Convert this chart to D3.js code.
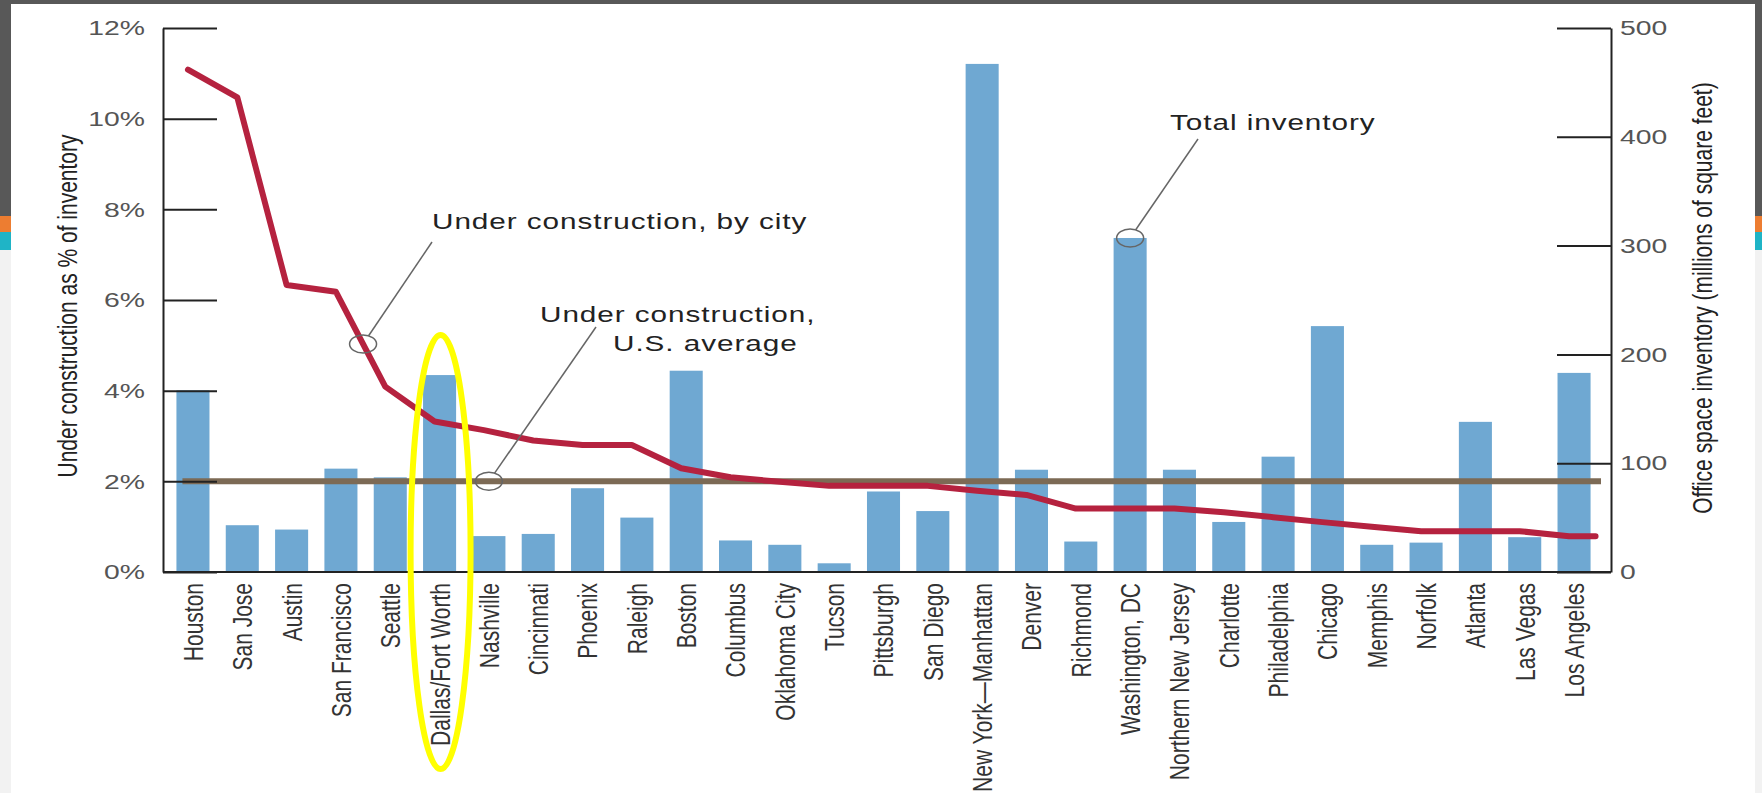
<!DOCTYPE html>
<html>
<head>
<meta charset="utf-8">
<script src="https://cdn.jsdelivr.net/npm/d3@7"></script>
<style>
  body { margin: 0; background: #fff; }
  svg { display: block; font-family: "Liberation Sans", Arial, Helvetica, sans-serif; }
</style>
</head>
<body>
<div id="chart"></div>
<script>
// Cities, ordered by share of inventory under construction
var cities = ["Houston", "San Jose", "Austin", "San Francisco", "Seattle", "Dallas/Fort Worth",
  "Nashville", "Cincinnati", "Phoenix", "Raleigh", "Boston", "Columbus", "Oklahoma City",
  "Tucson", "Pittsburgh", "San Diego", "New York\u2014Manhattan", "Denver", "Richmond",
  "Washington, DC", "Northern New Jersey", "Charlotte", "Philadelphia", "Chicago",
  "Memphis", "Norfolk", "Atlanta", "Las Vegas", "Los Angeles"]

// Office space inventory, millions of square feet (bars, right axis)
var inventory = [167, 43, 39, 95, 87, 181, 33, 35, 77, 50, 185, 29, 25, 8, 74, 56, 467,
  94, 28, 307, 94, 46, 106, 226, 25, 27, 138, 32, 183]

// Under construction as % of inventory (red line, left axis)
var underConstruction = [11.08, 10.47, 6.33, 6.18, 4.09, 3.32, 3.13, 2.9, 2.8, 2.8, 2.29,
  2.09, 1.99, 1.9, 1.9, 1.9, 1.79, 1.7, 1.4, 1.4, 1.4, 1.32, 1.21, 1.1, 1.0, 0.9, 0.9, 0.9, 0.79]

var usAverage = 2.0

var leftTicks = [0, 2, 4, 6, 8, 10, 12]
var rightTicks = [0, 100, 200, 300, 400, 500]

var width = 1762
var height = 793
var stretch = 1.35   // the source picture is stretched sideways, text too
var plot = {left: 163, right: 1611, top: 28, bottom: 572}

const svg = d3.select("#chart")
              .append("svg")
              .attr("width", width)
              .attr("height", height)

// slide frame (dark top, coloured side marks)
svg.append("rect").attr("x", 0).attr("y", 0).attr("width", width).attr("height", height).attr("fill", "#fff")
svg.append("rect").attr("x", 0).attr("y", 0).attr("width", width).attr("height", 4).attr("fill", "#585858")
var sides = [0, width - 7]
sides.forEach(function(sx, i){
    var w = i == 0 ? 11 : 7
    svg.append("rect").attr("x", sx).attr("y", 0).attr("width", w).attr("height", 216).attr("fill", "#585858")
    svg.append("rect").attr("x", sx).attr("y", 216).attr("width", w).attr("height", 16).attr("fill", "#ed7d31")
    svg.append("rect").attr("x", sx).attr("y", 232).attr("width", w).attr("height", 18).attr("fill", "#1fb4c6")
    svg.append("rect").attr("x", sx).attr("y", 250).attr("width", w).attr("height", height - 250).attr("fill", "#f2f2f2")
})

// scales
var x = d3.scaleBand()
          .domain(cities)
          .range([168.3, 1598.7])
          .paddingInner(0.33)
          .paddingOuter(0.165)

var yL = d3.scaleLinear().domain([0, 12]).range([plot.bottom, plot.top])
var yR = d3.scaleLinear().domain([0, 500]).range([plot.bottom, plot.top])

var bw = x.bandwidth()
var cx = (c) => x(c) + bw / 2

// bars
svg.selectAll("bars")
   .data(cities)
   .enter()
   .append("rect")
   .attr("x", (d) => x(d))
   .attr("y", (d, i) => yR(inventory[i]))
   .attr("width", bw)
   .attr("height", (d, i) => yR(0) - yR(inventory[i]))
   .attr("fill", "#6fa8d2")

// U.S. average line
svg.append("line")
   .attr("x1", x(cities[0]) + 6)
   .attr("x2", plot.right - 10)
   .attr("y1", yL(usAverage))
   .attr("y2", yL(usAverage))
   .attr("stroke", "#7c6a55")
   .attr("stroke-width", 6)

// red line, by city
var linePts = cities.map((c, i) => [cx(c) - 5, yL(underConstruction[i])])
var last = cities[cities.length - 1]
linePts.push([x(last) + bw + 5, yL(underConstruction[cities.length - 1])])

svg.append("path")
   .attr("d", d3.line()(linePts))
   .attr("fill", "none")
   .attr("stroke", "#b5223f")
   .attr("stroke-width", 6)
   .attr("stroke-linejoin", "round")
   .attr("stroke-linecap", "round")

// axes
var leftAxis = d3.axisLeft(yL).tickValues(leftTicks).tickFormat((d) => d + "%")
                 .tickSizeInner(-54).tickSizeOuter(0).tickPadding(18)
var rightAxis = d3.axisRight(yR).tickValues(rightTicks).tickFormat(d3.format("d"))
                  .tickSizeInner(-54).tickSizeOuter(0).tickPadding(9)

var gl = svg.append("g").attr("transform", "translate(" + plot.left + ",0)").call(leftAxis)
var gr = svg.append("g").attr("transform", "translate(" + plot.right + ",0)").call(rightAxis)

;[gl, gr].forEach(function(g, i){
    g.select(".domain").attr("stroke", "#222").attr("stroke-width", 2)
    g.selectAll(".tick line").attr("stroke", "#222").attr("stroke-width", 2)
    g.selectAll(".tick text")
     .attr("x", 0)
     .attr("fill", "#555")
     .style("font-size", "21px")
     .attr("transform", "translate(" + (i == 0 ? -18 : 9) + ",0) scale(" + stretch + ",1)")
})

// baseline
svg.append("line")
   .attr("x1", plot.left).attr("x2", plot.right)
   .attr("y1", plot.bottom).attr("y2", plot.bottom)
   .attr("stroke", "#222").attr("stroke-width", 2)

// category labels
var gx = svg.append("g")
            .attr("transform", "translate(0," + plot.bottom + ")")
            .call(d3.axisBottom(x).tickSize(0))
gx.select(".domain").remove()
gx.selectAll(".tick text")
  .attr("y", 0)
  .attr("dy", "0.35em")
  .attr("text-anchor", "end")
  .attr("fill", "#333")
  .style("font-size", "21px")
  .attr("transform", "translate(0,11) scale(" + stretch + ",1) rotate(-90)")

// axis titles
svg.append("text")
   .attr("transform", "translate(67,306) scale(" + stretch + ",1) rotate(-90)")
   .attr("text-anchor", "middle")
   .attr("dy", "0.35em")
   .attr("fill", "#222")
   .style("font-size", "21px")
   .text("Under construction as % of inventory")

svg.append("text")
   .attr("transform", "translate(1702,298) scale(" + stretch + ",1) rotate(-90)")
   .attr("text-anchor", "middle")
   .attr("dy", "0.35em")
   .attr("fill", "#222")
   .style("font-size", "21px")
   .text("Office space inventory (millions of square feet)")

// annotations
function edgePoint(ex, ey, rx, ry, tx, ty){
    var a = Math.atan2((ty - ey) / ry, (tx - ex) / rx)
    return [ex + rx * Math.cos(a), ey + ry * Math.sin(a)]
}

var iSF = cities.indexOf("San Francisco"), iSea = cities.indexOf("Seattle")
var t = 0.55
var ring1 = [(cx(cities[iSF]) - 5) * (1 - t) + (cx(cities[iSea]) - 5) * t,
             yL(underConstruction[iSF] * (1 - t) + underConstruction[iSea] * t)]
var ring2 = [cx("Nashville"), yL(usAverage)]
var ring3 = [cx("Washington, DC"), yR(inventory[cities.indexOf("Washington, DC")])]

var notes = [
    {lines: ["Under construction, by city"], x: 432, y: 229, from: [432, 242], ring: ring1},
    {lines: ["Under construction,", "U.S. average"], x: 540, y: 322, indent: [0, 73], from: [596, 327], ring: ring2},
    {lines: ["Total inventory"], x: 1170, y: 130, from: [1198, 139], ring: ring3}
]

notes.forEach(function(n){
    n.lines.forEach(function(s, j){
        svg.append("text")
           .attr("transform", "translate(" + (n.x + (n.indent ? n.indent[j] : 0)) + "," + (n.y + j * 29) + ") scale(" + stretch + ",1)")
           .attr("fill", "#222")
           .style("font-size", "22px")
           .style("letter-spacing", "0.7px")
           .text(s)
    })
    var e = edgePoint(n.ring[0], n.ring[1], 13.5, 9, n.from[0], n.from[1])
    svg.append("line")
       .attr("x1", n.from[0]).attr("y1", n.from[1])
       .attr("x2", e[0]).attr("y2", e[1])
       .attr("stroke", "#666").attr("stroke-width", 1.5)
    svg.append("ellipse")
       .attr("cx", n.ring[0]).attr("cy", n.ring[1])
       .attr("rx", 13.5).attr("ry", 9)
       .attr("fill", "none")
       .attr("stroke", "#666").attr("stroke-width", 1.5)
})

// yellow highlight around Dallas/Fort Worth
svg.append("ellipse")
   .attr("cx", cx("Dallas/Fort Worth") + 1)
   .attr("cy", 552)
   .attr("rx", 30)
   .attr("ry", 217)
   .attr("fill", "none")
   .attr("stroke", "#ffff00")
   .attr("stroke-width", 6)
</script>
</body>
</html>
